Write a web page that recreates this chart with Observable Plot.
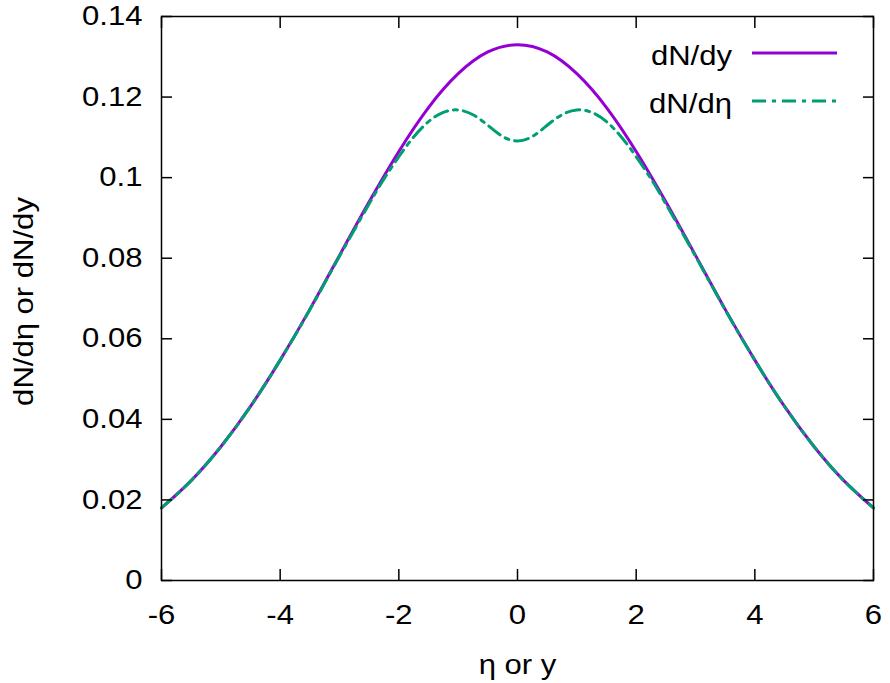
<!DOCTYPE html>
<html>
<head>
<meta charset="utf-8">
<script src="https://cdn.jsdelivr.net/npm/d3@7"></script>
<script src="https://cdn.jsdelivr.net/npm/@observablehq/plot@0.6"></script>
<style>
  html, body { margin: 0; padding: 0; background: #fff; }
  #chart svg { display: block; }
</style>
</head>
<body>
<div id="chart"></div>
<script>
// ---- data ----
const xTicks = [-6, -4, -2, 0, 2, 4, 6];
const xTickLabels = ["-6", "-4", "-2", "0", "2", "4", "6"];
const yTicks = [0, 0.02, 0.04, 0.06, 0.08, 0.1, 0.12, 0.14];
const yTickLabels = ["0", "0.02", "0.04", "0.06", "0.08", "0.1", "0.12", "0.14"];

const seriesNames = ["dN/dy", "dN/d\u03b7"];
const xLabel = "\u03b7 or y";
const yLabel = "dN/d\u03b7 or dN/dy";

const rapidity = [-6, -5.5, -5, -4.5, -4, -3.5, -3, -2.5, -2, -1.5, -1, -0.5, 0,
                  0.5, 1, 1.5, 2, 2.5, 3, 3.5, 4, 4.5, 5, 5.5, 6];
const dNdy = [0.0180, 0.0248, 0.0332, 0.0432, 0.0547, 0.0673, 0.0807, 0.0940, 0.1065, 0.1174, 0.1258, 0.1312, 0.1330,
              0.1312, 0.1258, 0.1174, 0.1065, 0.0940, 0.0807, 0.0673, 0.0547, 0.0432, 0.0332, 0.0248, 0.0180];

const pseudorapidity = [-6, -5.5, -5, -4.5, -4, -3.5, -3, -2.5, -2.25, -2, -1.75, -1.5, -1.25, -1, -0.75, -0.5, -0.25, 0,
                        0.25, 0.5, 0.75, 1, 1.25, 1.5, 1.75, 2, 2.25, 2.5, 3, 3.5, 4, 4.5, 5, 5.5, 6];
const dNdeta = [0.0180, 0.0248, 0.0332, 0.0432, 0.0547, 0.0672, 0.0805, 0.0935, 0.0997, 0.1052, 0.1101, 0.1139, 0.1162, 0.1168, 0.1156, 0.1130, 0.1102, 0.1091,
                0.1102, 0.1130, 0.1156, 0.1168, 0.1162, 0.1139, 0.1101, 0.1052, 0.0997, 0.0935, 0.0805, 0.0672, 0.0547, 0.0432, 0.0332, 0.0248, 0.0180];

const colors = ["#9400d3", "#009e73"];
const dashes = [null, "14,6,4,6"];

const curveY = rapidity.map((x, i) => ({x, v: dNdy[i]}));
const curveEta = pseudorapidity.map((x, i) => ({x, v: dNdeta[i]}));

const FONT = "'Liberation Sans', Arial, Helvetica, sans-serif";
const FS = 27;
const STRETCH = 1.15;

// legend drawn as a custom mark, anchored to the top-right of the frame
function legendMark(index, scales, values, dim) {
  const g = d3.create("svg:g");
  const right = dim.width - dim.marginRight;
  const rows = [{dy: 40}, {dy: 88}];
  seriesNames.forEach((name, i) => {
    const y = dim.marginTop + rows[i].dy;
    g.append("text")
      .attr("x", right - 141).attr("y", y)
      .attr("dy", "0.35em")
      .attr("text-anchor", "end")
      .attr("font-family", FONT).attr("font-size", FS)
      .attr("fill", "black")
      .text(name);
    g.append("line")
      .attr("x1", right - 121).attr("x2", right - 36)
      .attr("y1", y - 3).attr("y2", y - 3)
      .attr("stroke", colors[i]).attr("stroke-width", 3)
      .attr("stroke-dasharray", dashes[i]);
  });
  return g.node();
}

const chart = Plot.plot({
  width: 890,
  height: 683,
  marginLeft: 161,
  marginRight: 17,
  marginTop: 16,
  marginBottom: 103,
  style: {fontFamily: FONT, fontSize: FS + "px", background: "white", color: "black"},
  x: {domain: [-6, 6], label: null},
  y: {domain: [0, 0.14], label: null},
  marks: [
    Plot.line(curveY, {x: "x", y: "v", stroke: colors[0], strokeWidth: 3, curve: "natural"}),
    Plot.line(curveEta, {x: "x", y: "v", stroke: colors[1], strokeWidth: 3, strokeDasharray: dashes[1], curve: "natural"}),
    // inward ticks on all four sides
    Plot.axisX(xTicks, {anchor: "bottom", tickSize: -11, tickFormat: () => "", strokeWidth: 1.5, label: null}),
    Plot.axisX(xTicks, {anchor: "top", tickSize: -11, tickFormat: () => "", strokeWidth: 1.5, label: null}),
    Plot.axisY(yTicks, {anchor: "left", tickSize: -11, tickFormat: () => "", strokeWidth: 1.5, label: null}),
    Plot.axisY(yTicks, {anchor: "right", tickSize: -11, tickFormat: () => "", strokeWidth: 1.5, label: null}),
    // tick labels
    Plot.axisX(xTicks, {anchor: "bottom", tickSize: 0, tickPadding: 24, tickFormat: (d, i) => xTickLabels[i], label: null, fontSize: FS}),
    Plot.axisY(yTicks, {anchor: "left", tickSize: 0, tickPadding: 19, tickFormat: (d, i) => yTickLabels[i], label: null, fontSize: FS}),
    Plot.frame({stroke: "black", strokeWidth: 1.5}),
    // axis titles
    Plot.text([xLabel], {frameAnchor: "bottom", lineAnchor: "bottom", dy: 93, fontSize: FS, fill: "black"}),
    Plot.text([yLabel], {frameAnchor: "left", textAnchor: "middle", dx: -137, dy: 3, rotate: -90, fontSize: FS, fill: "black"}),
    legendMark
  ]
});

document.getElementById("chart").appendChild(chart);

// the reference's lettering is wider than the font's natural width: stretch it along the text direction
chart.querySelectorAll("text").forEach(t => {
  const len = t.getComputedTextLength();
  if (len > 0) {
    t.setAttribute("textLength", (len * STRETCH).toFixed(1));
    t.setAttribute("lengthAdjust", "spacingAndGlyphs");
  }
});
</script>
</body>
</html>
